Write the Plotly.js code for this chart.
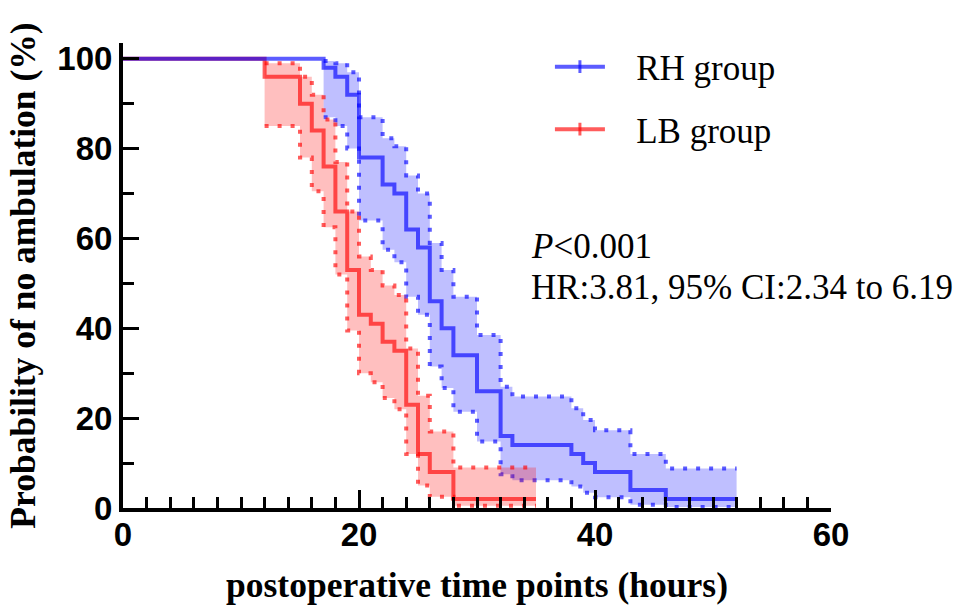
<!DOCTYPE html>
<html><head><meta charset="utf-8">
<script src="https://cdn.plot.ly/plotly-3.0.1.min.js"></script>
<style>html,body{margin:0;padding:0;background:#fff}#chart{width:971px;height:606px}</style>
</head><body><div id="chart"></div>
<script>
// RH group (blue): Kaplan-Meier estimate and 95% CI, times in hours, values in %
const rhTime  = [0, 17, 18, 19, 20, 22, 23, 24, 25, 26, 27, 28, 30, 32, 33, 38, 39, 40, 43, 46, 52];
const rhSurv  = [100, 98, 96, 92, 78, 72, 70, 62, 58, 46, 40, 34, 26, 16, 14, 12, 10, 8, 4, 2, 2];
const rhUpper = [100, 99.5, 99, 97, 87, 82.3, 80.5, 74, 70, 59, 53, 47, 38.5, 27, 24.8, 22.2, 19.6, 17.3, 12, 8.8, 8.8];
const rhLower = [100, 87, 85, 80, 64, 57.5, 54.7, 47, 43, 31.5, 26.7, 21.4, 14.8, 7.5, 6.2, 4.8, 3.4, 2.4, 0.7, 0.2, 0.2];

// LB group (red)
const lbTime  = [0, 12, 15, 16, 17, 18, 19, 20, 21, 22, 23, 24, 25, 26, 28, 35];
const lbSurv  = [100, 96, 90, 84, 76, 66, 53, 43, 41, 37, 35, 23, 12, 8, 2, 2];
const lbUpper = [100, 99, 96, 92, 86.5, 77, 66, 56, 53, 49.5, 47.4, 35.5, 25, 17, 9, 9];
const lbLower = [100, 85, 78, 70.5, 62.5, 52, 39.5, 30, 28, 24.5, 22, 12, 5, 2.5, 0.5, 0.5];

const groupNames = ['RH group', 'LB group'];
const xTicks = [0, 20, 40, 60];
const yTicks = [0, 20, 40, 60, 80, 100];

const BLUE = 'rgba(0,0,255,0.64)';
const RED = 'rgba(255,0,0,0.64)';
const BLUE_FILL = 'rgba(0,0,255,0.25)';
const RED_FILL = 'rgba(255,0,0,0.25)';

function bandTraces(t, lo, hi, col, fillCol) {
  const tt = t.slice(1);
  const dotted = {shape: 'hv', color: col, width: 4, dash: '4px,9px'};
  return [
    {x: tt, y: lo.slice(1), type: 'scatter', mode: 'lines', line: dotted, showlegend: false, hoverinfo: 'skip'},
    {x: tt, y: hi.slice(1), type: 'scatter', mode: 'lines', line: dotted, fill: 'tonexty', fillcolor: fillCol, showlegend: false, hoverinfo: 'skip'}
  ];
}

const traces = [
  ...bandTraces(rhTime, rhLower, rhUpper, BLUE, BLUE_FILL),
  ...bandTraces(lbTime, lbLower, lbUpper, RED, RED_FILL),
  {x: lbTime, y: lbSurv, type: 'scatter', mode: 'lines', line: {shape: 'hv', color: RED, width: 4}, showlegend: false, hoverinfo: 'skip'},
  {x: rhTime, y: rhSurv, type: 'scatter', mode: 'lines', line: {shape: 'hv', color: BLUE, width: 4}, showlegend: false, hoverinfo: 'skip'},
  {x: [null], y: [null], type: 'scatter', mode: 'lines+markers', name: '\u00a0\u00a0\u00a0' + groupNames[0], legendgroup: 'rh',
   line: {color: BLUE, width: 4}, marker: {symbol: 'line-ns-open', size: 9, color: BLUE, line: {color: BLUE, width: 3}}},
  {x: [null], y: [null], type: 'scatter', mode: 'lines+markers', name: '\u00a0\u00a0\u00a0' + groupNames[1], legendgroup: 'lb',
   line: {color: RED, width: 4}, marker: {symbol: 'line-ns-open', size: 9, color: RED, line: {color: RED, width: 3}}}
];

const tickFont = {family: 'Liberation Sans, Arial, sans-serif', size: 33, color: '#000', weight: 'bold'};
const titleFont = {family: 'Liberation Serif, Times New Roman, serif', size: 35.5, color: '#000', weight: 'bold'};
const serif = {family: 'Liberation Serif, Times New Roman, serif', size: 35, color: '#000'};

const layout = {
  width: 971, height: 606,
  margin: {l: 123, r: 140, t: 43, b: 98},
  paper_bgcolor: '#fff', plot_bgcolor: '#fff',
  showlegend: true,
  legend: {x: 0.603, y: 1.012, xanchor: 'left', yanchor: 'top', font: serif, itemwidth: 50,
           traceorder: 'grouped', tracegroupgap: 14, bgcolor: 'rgba(0,0,0,0)'},
  xaxis: {
    range: [0, 60], tickvals: xTicks, showgrid: false, zeroline: false,
    showline: true, linewidth: 4, linecolor: '#000', mirror: false,
    ticks: 'inside', ticklen: 18, tickwidth: 3, tickcolor: '#000',
    minor: {ticks: 'inside', ticklen: 11, tickwidth: 3, tickcolor: '#000', dtick: 2, tick0: 0, showgrid: false},
    tickfont: tickFont, ticklabelstandoff: -6,
    title: {text: 'postoperative time points (hours)', font: titleFont, standoff: 22}
  },
  yaxis: {
    range: [0, 103.5], tickvals: yTicks, showgrid: false, zeroline: false,
    showline: true, linewidth: 4, linecolor: '#000',
    ticks: 'inside', ticklen: 16, tickwidth: 3, tickcolor: '#000',
    minor: {ticks: 'inside', ticklen: 11, tickwidth: 3, tickcolor: '#000', dtick: 10, tick0: 0, showgrid: false},
    tickfont: tickFont,
    title: {text: 'Probability of no ambulation (%)', font: titleFont, standoff: 12}
  },
  annotations: [
    {x: 34.4, y: 58.1, xref: 'x', yref: 'y', xanchor: 'left', yanchor: 'middle', showarrow: false,
     text: '<i>P</i>&lt;0.001', font: serif},
    {x: 34.4, y: 49.0, xref: 'x', yref: 'y', xanchor: 'left', yanchor: 'middle', showarrow: false,
     text: 'HR:3.81, 95% CI:2.34 to 6.19', font: serif}
  ]
};

Plotly.newPlot('chart', traces, layout, {staticPlot: true, displayModeBar: false});
</script>
</body></html>
